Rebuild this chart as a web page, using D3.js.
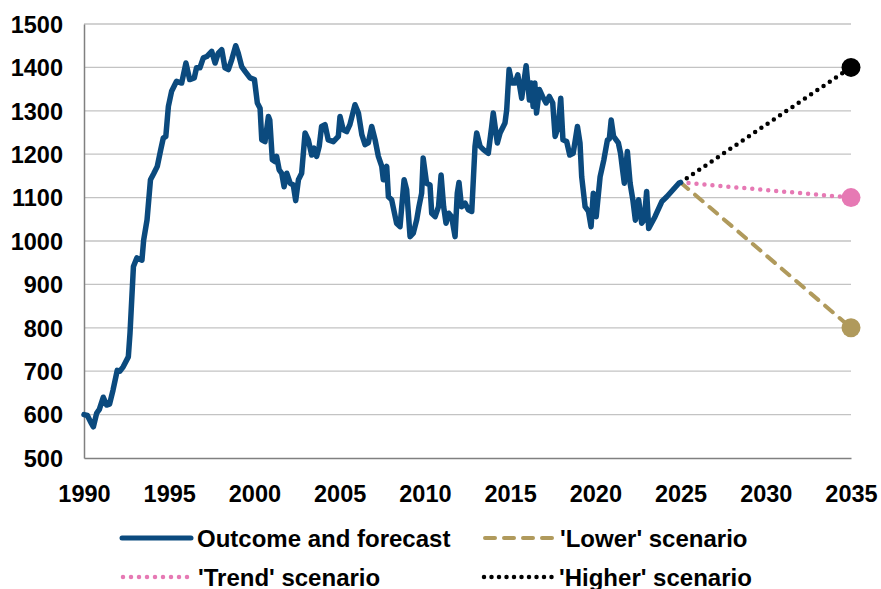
<!DOCTYPE html>
<html>
<head>
<meta charset="utf-8">
<script src="https://cdn.jsdelivr.net/npm/d3@7"></script>
<style>
  body { margin: 0; background: white; }
  text { font-family: "Liberation Sans", Arial, sans-serif; font-weight: bold; fill: #000; }
</style>
</head>
<body>
<div id="container"></div>
<script>
let w = 881;
let h = 589;

// DATA
let outcomeYears = [
  1990.0, 1990.2, 1990.4, 1990.55, 1990.74, 1990.9, 1991.13, 1991.33, 1991.5, 1991.7,
  1991.95, 1992.1, 1992.3, 1992.6, 1992.7, 1992.9, 1993.1, 1993.4, 1993.5, 1993.7,
  1993.9, 1994.1, 1994.3, 1994.5, 1994.65, 1994.8, 1994.95, 1995.14, 1995.43, 1995.73,
  1995.98, 1996.2, 1996.47, 1996.6, 1996.8, 1997.0, 1997.2, 1997.49, 1997.69, 1997.88,
  1998.08, 1998.27, 1998.47, 1998.67, 1998.9, 1999.05, 1999.25, 1999.45, 1999.74, 2000.0,
  2000.17, 2000.33, 2000.43, 2000.62, 2000.82, 2000.9, 2001.05, 2001.2, 2001.3, 2001.45,
  2001.6, 2001.74, 2001.9, 2002.1, 2002.28, 2002.42, 2002.58, 2002.77, 2002.97, 2003.16,
  2003.36, 2003.5, 2003.65, 2003.8, 2003.94, 2004.14, 2004.33, 2004.63, 2004.92, 2005.02,
  2005.21, 2005.41, 2005.6, 2005.9, 2006.1, 2006.3, 2006.49, 2006.68, 2006.88, 2007.08,
  2007.27, 2007.47, 2007.56, 2007.76, 2007.86, 2008.05, 2008.34, 2008.54, 2008.78, 2008.93,
  2009.13, 2009.32, 2009.52, 2009.65, 2009.81, 2009.9, 2010.1, 2010.3, 2010.4, 2010.6,
  2010.8, 2010.95, 2011.1, 2011.24, 2011.4, 2011.57, 2011.77, 2011.9, 2012.0, 2012.15,
  2012.36, 2012.55, 2012.75, 2012.94, 2013.04, 2013.24, 2013.45, 2013.72, 2013.92, 2014.01,
  2014.25, 2014.41, 2014.7, 2014.8, 2014.94, 2015.1, 2015.29, 2015.45, 2015.68, 2015.94,
  2016.13, 2016.25, 2016.35, 2016.45, 2016.55, 2016.72, 2016.9, 2017.11, 2017.3, 2017.5,
  2017.64, 2017.83, 2017.97, 2018.1, 2018.32, 2018.5, 2018.7, 2018.95, 2019.1, 2019.2,
  2019.4, 2019.6, 2019.75, 2019.88, 2020.05, 2020.28, 2020.5, 2020.71, 2020.82, 2020.93,
  2021.07, 2021.22, 2021.35, 2021.48, 2021.6, 2021.7, 2021.88, 2022.04, 2022.2, 2022.35,
  2022.54, 2022.72, 2022.87, 2023.01, 2023.13, 2023.5, 2023.9, 2024.19, 2024.9, 2025.0
];
let outcomeValues = [
  600, 598, 582, 572, 603, 612, 640, 622, 624, 656,
  702, 700, 710, 733, 788, 941, 961, 956, 1002, 1049,
  1141, 1156, 1172, 1210, 1237, 1241, 1310, 1345, 1368, 1364,
  1410, 1372, 1376, 1399, 1399, 1422, 1425, 1437, 1410, 1433,
  1441, 1399, 1395, 1418, 1450, 1433, 1402, 1391, 1376, 1372,
  1318, 1306, 1233, 1229, 1287, 1279, 1187, 1183, 1195, 1164,
  1156, 1125, 1156, 1133, 1129, 1093, 1141, 1156, 1249, 1233,
  1198, 1214, 1195, 1218, 1264, 1268, 1233, 1229, 1241, 1287,
  1256, 1252, 1268, 1314, 1295, 1245, 1222, 1226, 1264, 1233,
  1195, 1172, 1141, 1172, 1102, 1095, 1041, 1033, 1141, 1118,
  1010, 1018, 1049, 1079, 1110, 1191, 1133, 1129, 1064, 1056,
  1079, 1152, 1079, 1041, 1064, 1056, 1010, 1110, 1135, 1079,
  1087, 1072, 1068, 1218, 1249, 1218, 1210, 1202, 1264, 1295,
  1226, 1249, 1272, 1302, 1395, 1364, 1364, 1383, 1329, 1404,
  1325, 1364, 1310, 1364, 1295, 1349, 1333, 1318, 1333, 1318,
  1241, 1264, 1329, 1233, 1229, 1198, 1202, 1264, 1226, 1148,
  1079, 1068, 1033, 1110, 1056, 1148, 1187, 1233, 1235, 1279,
  1241, 1233, 1226, 1202, 1164, 1133, 1206, 1133, 1095, 1048,
  1095, 1041, 1049, 1114, 1029, 1056, 1091, 1102, 1133, 1135
];

let scenarioNames = ["'Lower' scenario", "'Trend' scenario", "'Higher' scenario"];
let scenarioStart = [2025, 1135];
let scenarioEndYear = 2035;
let scenarioEndValues = [800, 1100, 1400];

let xTicks = [1990, 1995, 2000, 2005, 2010, 2015, 2020, 2025, 2030, 2035];
let yTicks = [500, 600, 700, 800, 900, 1000, 1100, 1200, 1300, 1400, 1500];

// SVG
let viz = d3.select("#container").append("svg")
    .attr("width", w)
    .attr("height", h)
    .style("display", "block")
    .style("background-color", "white");

let xScale = d3.scaleLinear().domain([1990, 2035]).range([84, 851]);
let yScale = d3.scaleLinear().domain([500, 1500]).range([458, 24]);

// gridlines
viz.append("g").selectAll("line").data(yTicks.slice(1)).enter()
  .append("line")
    .attr("x1", xScale(1990))
    .attr("x2", xScale(2035))
    .attr("y1", d => yScale(d))
    .attr("y2", d => yScale(d))
    .attr("stroke", "#c3c3c3")
    .attr("stroke-width", 1.3);

// axes
let xAxis = d3.axisBottom(xScale).tickValues(xTicks).tickSize(0).tickPadding(27).tickFormat(d3.format("d"));
let yAxis = d3.axisLeft(yScale).tickValues(yTicks).tickSize(0).tickPadding(21).tickFormat(d3.format("d"));

let xG = viz.append("g").attr("transform", "translate(0," + yScale(500) + ")").call(xAxis);
let yG = viz.append("g").attr("transform", "translate(" + xScale(1990) + ",0)").call(yAxis);

[xG, yG].forEach(function(g){
  g.select(".domain").attr("stroke", "#808080").attr("stroke-width", 1.5);
  g.selectAll("text")
    .style("font-family", '"Liberation Sans", Arial, sans-serif')
    .style("font-weight", "bold")
    .style("font-size", "23.5px")
    .attr("fill", "#000");
});
yG.selectAll("text").attr("dy", "0.35em");

// scenario styles
let scenarioColors = ["#b09a5c", "#e679b4", "#000000"];
let scenarioDash = ["10 9", "0 8", "0 7.5"];

// scenario lines
viz.append("g").selectAll("line").data(scenarioEndValues).enter()
  .append("line")
    .attr("x1", xScale(scenarioStart[0]))
    .attr("y1", yScale(scenarioStart[1]))
    .attr("x2", xScale(scenarioEndYear))
    .attr("y2", d => yScale(d))
    .attr("stroke", (d, i) => scenarioColors[i])
    .attr("stroke-width", (d, i) => i == 0 ? 4 : 4.5)
    .attr("stroke-dasharray", (d, i) => scenarioDash[i])
    .attr("stroke-linecap", "round");

// main line
let lineMaker = d3.line()
  .x((d, i) => xScale(outcomeYears[i]))
  .y(d => yScale(d));

viz.append("path")
  .datum(outcomeValues)
  .attr("d", lineMaker)
  .attr("fill", "none")
  .attr("stroke", "#0b4a7e")
  .attr("stroke-width", 5.5)
  .attr("stroke-linejoin", "round")
  .attr("stroke-linecap", "round");

// end dots
viz.append("g").selectAll("circle").data(scenarioEndValues).enter()
  .append("circle")
    .attr("cx", xScale(scenarioEndYear))
    .attr("cy", d => yScale(d))
    .attr("r", 9.5)
    .attr("fill", (d, i) => scenarioColors[i]);

// LEGEND
let legendItems = [
  { name: "Outcome and forecast", color: "#0b4a7e", dash: null, width: 5, x: 122, y: 538 },
  { name: scenarioNames[0], color: scenarioColors[0], dash: scenarioDash[0], width: 4, x: 485, y: 538 },
  { name: scenarioNames[1], color: scenarioColors[1], dash: scenarioDash[1], width: 4.5, x: 123, y: 577 },
  { name: scenarioNames[2], color: scenarioColors[2], dash: scenarioDash[2], width: 4.5, x: 484, y: 577 }
];

let legend = viz.append("g").selectAll("g").data(legendItems).enter().append("g");

legend.append("line")
  .attr("x1", d => d.x)
  .attr("x2", d => d.x + 69)
  .attr("y1", d => d.y)
  .attr("y2", d => d.y)
  .attr("stroke", d => d.color)
  .attr("stroke-width", d => d.width)
  .attr("stroke-dasharray", d => d.dash)
  .attr("stroke-linecap", "round");

legend.append("text")
  .attr("x", d => d.x + 75)
  .attr("y", d => d.y + 8.5)
  .style("font-size", "24px")
  .text(d => d.name);
</script>
</body>
</html>
